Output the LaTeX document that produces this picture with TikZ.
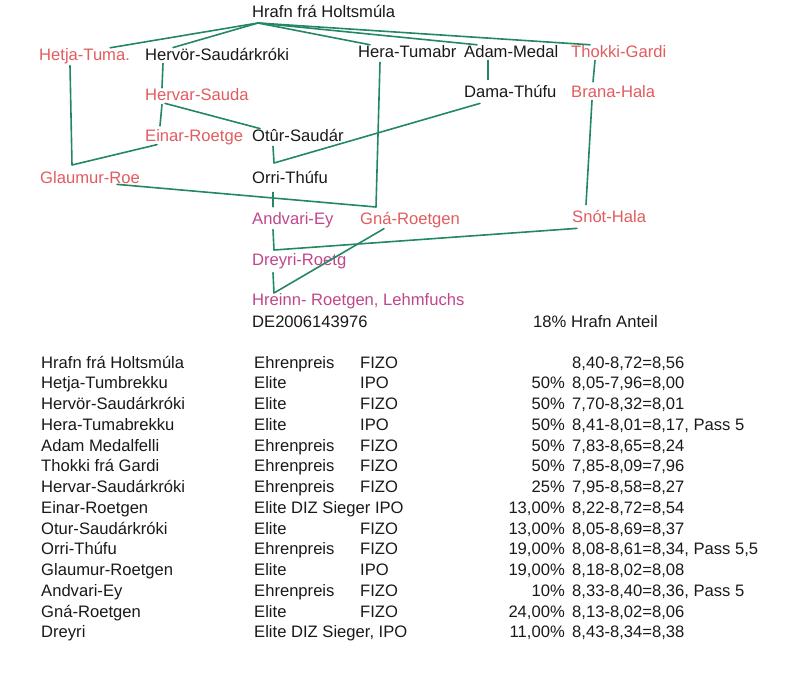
\documentclass[tikz,border=0pt]{standalone}
\usepackage{fontspec}
\setmainfont{Liberation Sans}
\definecolor{pen}{RGB}{35,135,100}
\definecolor{ink}{RGB}{25,25,25}
\definecolor{redname}{RGB}{225,92,95}
\definecolor{magname}{RGB}{192,70,140}
\begin{document}
\begin{tikzpicture}[x=1pt, y=-1pt,
        lbl/.style={anchor=base west, inner sep=0pt, text=ink, font=\fontsize{16.6}{20}\selectfont},
        red/.style={lbl, text=redname},
        mag/.style={lbl, text=magname},
        pct/.style={lbl, anchor=base east},
        link/.style={pen, line width=1.6pt, line cap=round, line join=round}]
    \useasboundingbox (0,0) rectangle (800,672);
    \node[lbl] (hrafn) at (252,17) {Hrafn frá Holtsmúla};
    \node[red] (hetja) at (39,60) {Hetja-Tuma.};
    \node[lbl] (hervor) at (145,60) {Hervör-Saudárkróki};
    \node[lbl] (hera) at (358,57) {Hera-Tumabr};
    \node[lbl] (adam) at (464,57) {Adam-Medal};
    \node[red] (thokki) at (571,57) {Thokki-Gardi};
    \node[red] (hervar) at (145,100) {Hervar-Sauda};
    \node[lbl] (dama) at (464,97) {Dama-Thúfu};
    \node[red] (brana) at (571,97) {Brana-Hala};
    \node[red] (einar) at (145,141) {Einar-Roetge};
    \node[lbl] (otur) at (252,141) {Otûr-Saudár};
    \node[red] (glaumur) at (40,183) {Glaumur-Roe};
    \node[lbl] (orri) at (252,183) {Orri-Thúfu};
    \node[mag] (andvari) at (252,224) {Andvari-Ey};
    \node[red] (gna) at (360,224) {Gná-Roetgen};
    \node[red] (snot) at (572,222) {Snót-Hala};
    \node[mag] (dreyri) at (252,265) {Dreyri-Roetg};
    \node[mag] (hreinn) at (252,305) {Hreinn- Roetgen, Lehmfuchs};
    \node[lbl] (reg) at (252,327) {DE2006143976};
    \node[lbl] (anteil) at (533,327) {18\% Hrafn Anteil};

    \coordinate (fan) at (258,23);
    \coordinate (jglaumur) at (72,165);
    \coordinate (jorri) at (274,163);
    \coordinate (jgna) at (376,207);
    \coordinate (jdreyri) at (274,250);
    \coordinate (jhreinn) at (274,293);

    \draw[link] (fan) -- ([xshift=-20pt]hetja.north east);
    \draw[link] (fan) -- ([xshift=28pt]hervor.north west);
    \draw[link] (fan) -- ([xshift=12pt]hera.north west);
    \draw[link] (fan) -- ([xshift=13pt]adam.north west);
    \draw[link] (fan) -- ([xshift=19pt]thokki.north west);
    \draw[link] ([xshift=31pt, yshift=-2pt]hetja.south west) -- (jglaumur) -- ([xshift=12pt]einar.south west);
    \draw[link] ([xshift=18pt, yshift=-3pt]hervor.south west) -- ([xshift=17pt]hervar.north west);
    \draw[link] ([xshift=17pt, yshift=-4pt]hervar.south west) -- ([xshift=15pt, yshift=3pt]einar.north west);
    \draw[link] ([xshift=20pt, yshift=-3pt]hervar.south west) -- ([xshift=8pt]otur.north west);
    \draw[link] ([xshift=21pt, yshift=-5pt]otur.south west) -- (jorri) -- ([xshift=16pt, yshift=-6pt]dama.south west);
    \draw[link] ([xshift=24pt, yshift=-3pt]adam.south west) -- ([xshift=24pt, yshift=5pt]dama.north west);
    \draw[link] ([xshift=24pt, yshift=-3pt]thokki.south west) -- ([xshift=22pt, yshift=3pt]brana.north west);
    \draw[link] ([xshift=21pt, yshift=-3pt]brana.south west) -- ([xshift=14pt, yshift=5pt]snot.north west);
    \draw[link] ([xshift=22pt, yshift=-5pt]hera.south west) -- (jgna) -- ([xshift=77pt, yshift=-1pt]glaumur.south west);
    \draw[link] ([xshift=21pt, yshift=-9pt]orri.south west) -- ([xshift=21pt, yshift=5pt]andvari.north west);
    \draw[link] ([xshift=21pt, yshift=-2pt]andvari.south west) -- (jdreyri) -- ([xshift=5pt, yshift=-6pt]snot.south west);
    \draw[link] ([xshift=21pt, yshift=-4pt]dreyri.south west) -- (jhreinn) -- ([xshift=24pt, yshift=-1pt]gna.south west);

    \foreach \name/\award/\exam/\share/\score [count=\i] in {
            {Hrafn frá Holtsmúla}/Ehrenpreis/FIZO//{8,40-8,72=8,56},
            {Hetja-Tumbrekku}/Elite/IPO/50\%/{8,05-7,96=8,00},
            {Hervör-Saudárkróki}/Elite/FIZO/50\%/{7,70-8,32=8,01},
            {Hera-Tumabrekku}/Elite/IPO/50\%/{8,41-8,01=8,17, Pass 5},
            {Adam Medalfelli}/Ehrenpreis/FIZO/50\%/{7,83-8,65=8,24},
            {Thokki frá Gardi}/Ehrenpreis/FIZO/50\%/{7,85-8,09=7,96},
            {Hervar-Saudárkróki}/Ehrenpreis/FIZO/25\%/{7,95-8,58=8,27},
            {Einar-Roetgen}/{Elite DIZ Sieger IPO}//{13,00\%}/{8,22-8,72=8,54},
            {Otur-Saudárkróki}/Elite/FIZO/{13,00\%}/{8,05-8,69=8,37},
            {Orri-Thúfu}/Ehrenpreis/FIZO/{19,00\%}/{8,08-8,61=8,34, Pass 5,5},
            {Glaumur-Roetgen}/Elite/IPO/{19,00\%}/{8,18-8,02=8,08},
            {Andvari-Ey}/Ehrenpreis/FIZO/10\%/{8,33-8,40=8,36, Pass 5},
            {Gná-Roetgen}/Elite/FIZO/{24,00\%}/{8,13-8,02=8,06},
            {Dreyri}/{Elite DIZ Sieger, IPO}//{11,00\%}/{8,43-8,34=8,38}}{
        \node[lbl] (name\i) at (41,{368+20.75*(\i-1)}) {\name};
        \node[lbl] (award\i) at (254,{368+20.75*(\i-1)}) {\award};
        \node[lbl] (exam\i) at (360,{368+20.75*(\i-1)}) {\exam};
        \node[pct] (share\i) at (565,{368+20.75*(\i-1)}) {\share};
        \node[lbl] (score\i) at (572,{368+20.75*(\i-1)}) {\score};
    }
\end{tikzpicture}
\end{document}
